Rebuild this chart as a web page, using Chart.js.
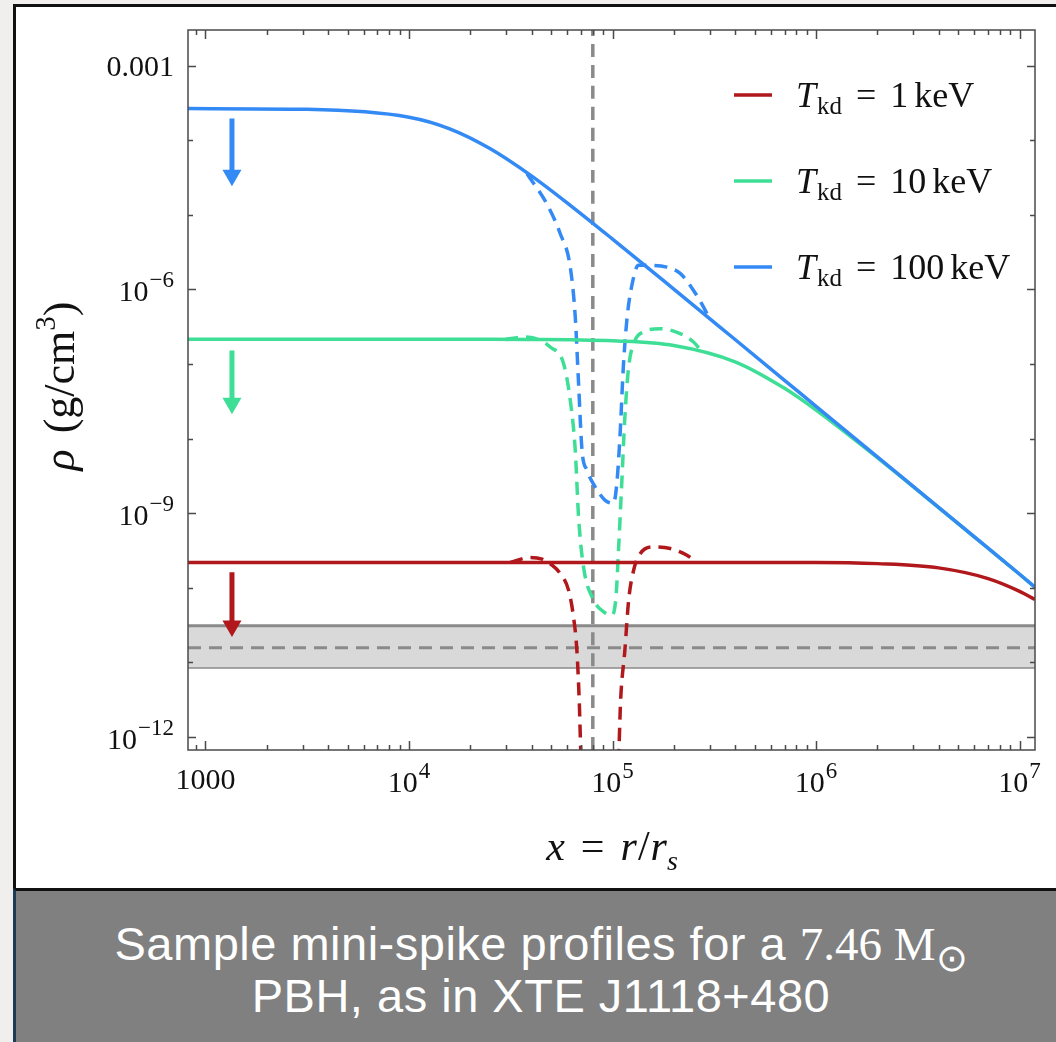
<!DOCTYPE html>
<html>
<head>
<meta charset="utf-8">
<script src="https://cdn.jsdelivr.net/npm/chart.js@4.4.1/dist/chart.umd.min.js"></script>
<style>
  html, body { margin: 0; padding: 0; background: #f0efed; overflow: hidden; width: 1056px; height: 1042px; }
  #frame { position: absolute; left: 13px; top: 4px; width: 1100px; height: 1100px;
           border-left: 3px solid #111; border-top: 3px solid #111; background: #fff; }
  #caption { position: absolute; left: 13px; top: 888px; width: 1100px; height: 160px;
             background: #808080; border-top: 3px solid #111; border-left: 3px solid #1d3b55; color: #fff;
             font-family: 'Liberation Sans', Arial, sans-serif; font-size: 47px; line-height: 52px;
             letter-spacing: 0.5px; }
  #caption .inner { width: 1050px; text-align: center; padding-top: 27px; white-space: nowrap; }
  .sun { font-family: 'Liberation Serif', serif; letter-spacing: 0; }
  .sun sub { font-size: 0.8em; vertical-align: -0.3em; line-height: 0; }
  canvas { position: absolute; left: 0; top: 0; }
</style>
</head>
<body>
<div id="frame"></div>
<div id="caption"><div class="inner">Sample mini-spike profiles for a <span class="sun">7.46 M<sub>⊙</sub></span><br>PBH, as in XTE J1118+480</div></div>
<canvas id="chart" width="1056" height="888"></canvas>
<script>
// axis ranges and ticks
const xMin = 821, xMax = 1.19e7;
const yMin = 6.7e-13, yMax = 3.0e-3;
const xTicks = [1e3, 1e4, 1e5, 1e6, 1e7];
const xTickLabels = ['1000', '10^4', '10^5', '10^6', '10^7'];
const yTicks = [1e-3, 1e-6, 1e-9, 1e-12];
const yTickLabels = ['0.001', '10^\u22126', '10^\u22129', '10^\u221212'];

// solid profiles (shared x grid)
const solidX = [821, 3162, 1e4, 1.585e4, 2.51e4, 3.98e4, 6.31e4, 1e5, 2e5, 4e5, 7e5, 1e6, 2e6, 4e6, 7e6, 1e7, 1.19e7];
const blueSolid = [2.65e-4, 2.59e-4, 2.03e-4, 1.42e-4, 7.67e-5, 3.35e-5, 1.29e-5, 4.73e-6, 1.01e-6, 2.13e-7, 6.05e-8, 2.71e-8, 5.70e-9, 1.20e-9, 3.40e-10, 1.52e-10, 1.02e-10];
const greenSolid = [2.14e-7, 2.14e-7, 2.14e-7, 2.14e-7, 2.14e-7, 2.13e-7, 2.11e-7, 2.05e-7, 1.77e-7, 1.07e-7, 4.72e-8, 2.41e-8, 5.56e-9, 1.19e-9, 3.39e-10, 1.52e-10, 1.02e-10];
const redSolid = [2.19e-10, 2.19e-10, 2.19e-10, 2.19e-10, 2.19e-10, 2.19e-10, 2.19e-10, 2.19e-10, 2.19e-10, 2.19e-10, 2.19e-10, 2.19e-10, 2.11e-10, 1.85e-10, 1.33e-10, 8.97e-11, 6.97e-11];

// dashed profiles
const blueDashX = [3.8e4, 4.75e4, 5.53e4, 6.2e4, 6.56e4, 6.81e4, 7.08e4, 7.49e4, 8.22e4, 9.2e4, 1.01e5, 1.05e5, 1.09e5, 1.13e5, 1.18e5, 1.25e5, 1.34e5, 1.48e5, 1.85e5, 2.15e5, 2.5e5, 2.8e5, 3.0e5];
const blueDashY = [3.55e-5, 1.41e-5, 5.62e-6, 1.99e-6, 4.26e-7, 5.51e-8, 6.98e-9, 3.77e-9, 2.25e-9, 1.49e-9, 1.36e-9, 2.52e-9, 1.18e-8, 9.12e-8, 4.26e-7, 1.2e-6, 2.1e-6, 2.1e-6, 1.99e-6, 1.64e-6, 9.7e-7, 5.8e-7, 4.0e-7];
const greenDashX = [2.97e4, 3.65e4, 4.17e4, 4.94e4, 5.75e4, 6.2e4, 6.56e4, 6.81e4, 7.2e4, 8.07e4, 9.04e4, 9.94e4, 1.04e5, 1.07e5, 1.11e5, 1.15e5, 1.2e5, 1.29e5, 1.42e5, 1.72e5, 2.15e5, 2.5e5, 2.7e5];
const greenDashY = [2.13e-7, 2.3e-7, 2.21e-7, 1.69e-7, 1.01e-7, 3.26e-8, 6.98e-9, 8.93e-10, 1.91e-10, 6.84e-11, 4.77e-11, 4.3e-11, 7.57e-11, 3.2e-10, 2.52e-9, 1.95e-8, 9.12e-8, 2.07e-7, 2.68e-7, 2.98e-7, 2.55e-7, 1.97e-7, 1.55e-7];
const redDashX = [3.14e4, 3.94e4, 4.51e4, 5.04e4, 5.53e4, 6.08e4, 6.43e4, 6.68e4, 6.86e4, 7.01e4, 8.8e4, 1.07e5, 1.096e5, 1.15e5, 1.2e5, 1.27e5, 1.37e5, 1.59e5, 1.92e5, 2.32e5, 2.6e5];
const redDashY = [2.19e-10, 2.55e-10, 2.42e-10, 2.01e-10, 1.56e-10, 9.31e-11, 4.09e-11, 1.46e-11, 3.13e-12, 4.9e-13, 1e-14, 4.9e-13, 3.13e-12, 1.46e-11, 6.84e-11, 1.73e-10, 2.89e-10, 3.54e-10, 3.37e-10, 2.74e-10, 2.19e-10];

// grey band, vertical marker, arrows
const bandX = [xMin, xMax];
const bandTop = [3.1e-11, 3.1e-11];
const bandMid = [1.57e-11, 1.57e-11];
const bandBottom = [8.6e-12, 8.6e-12];
const markerX = [8e4, 8e4];
const markerY = [yMin, yMax];
const arrowX = [1350, 1350];
const blueArrowY = [1.95e-4, 3.4e-5];
const greenArrowY = [1.52e-7, 2.97e-8];
const redArrowY = [1.62e-10, 3.07e-11];

const legendLabels = ['1', '10', '100'];

const RED = 'rgb(176,24,28)', GREEN = 'rgb(62,222,150)', BLUE = 'rgb(52,138,245)', GREY = '#8a8a8a';
const SERIF = "'Liberation Serif', 'Times New Roman', serif";

const pts = (xs, ys) => xs.map((x, i) => ({ x: x, y: ys[i] }));

function line(data, color, extra) {
  return Object.assign({
    data: data, borderColor: color, borderWidth: 3.5, pointRadius: 0,
    fill: false, cubicInterpolationMode: 'monotone'
  }, extra || {});
}

function arrow(ys, color) {
  return {
    data: pts(arrowX, ys), borderColor: color, backgroundColor: color, borderWidth: 5,
    pointStyle: 'triangle', rotation: 180, pointRadius: [0, 11], pointBorderWidth: 0, order: 0
  };
}

// draw "10^-6" style labels with raised exponent
function drawPow(ctx, label, x, base, align) {
  const parts = label.split('^');
  ctx.font = '30px ' + SERIF;
  const wb = ctx.measureText(parts[0]).width;
  let we = 0;
  if (parts[1]) { ctx.font = '23px ' + SERIF; we = ctx.measureText(parts[1]).width + 1; }
  const left = align === 'center' ? x - (wb + we) / 2 : x - wb - we;
  ctx.textAlign = 'left';
  ctx.font = '30px ' + SERIF;
  ctx.fillText(parts[0], left, base);
  if (parts[1]) {
    ctx.font = '23px ' + SERIF;
    ctx.fillText(parts[1], left + wb + 1, base - 14);
  }
}

// draw a run of [text, font, dy, gapAfter] pieces
function drawRun(ctx, pieces, x, y) {
  let cx = x;
  pieces.forEach(p => {
    ctx.font = p[1];
    ctx.fillText(p[0], cx, y + (p[2] || 0));
    cx += ctx.measureText(p[0]).width + (p[3] || 0);
  });
  return cx;
}
function runWidth(ctx, pieces) {
  return pieces.reduce((w, p) => { ctx.font = p[1]; return w + ctx.measureText(p[0]).width + (p[3] || 0); }, 0);
}

const framePlugin = {
  id: 'framePlugin',
  afterDatasetsDraw(chart) {
    const { ctx, chartArea: a, scales: { x, y } } = chart;
    ctx.save();
    ctx.strokeStyle = '#4a4a4a';
    ctx.lineWidth = 1.5;
    ctx.strokeRect(a.left, a.top, a.right - a.left, a.bottom - a.top);
    ctx.beginPath();
    for (let e = 2; e <= 7; e++) {
      for (let k = 1; k <= 9; k++) {
        const v = k * Math.pow(10, e);
        if (v < xMin || v > xMax) continue;
        const px = Math.round(x.getPixelForValue(v)) + 0.5;
        const len = k === 1 ? 9 : 5;
        ctx.moveTo(px, a.bottom); ctx.lineTo(px, a.bottom - len);
        ctx.moveTo(px, a.top); ctx.lineTo(px, a.top + len);
      }
    }
    for (let e = -12; e <= -3; e++) {
      const py = Math.round(y.getPixelForValue(Math.pow(10, e))) + 0.5;
      const len = e % 3 === 0 ? 8 : 5;
      ctx.moveTo(a.left, py); ctx.lineTo(a.left + len, py);
      ctx.moveTo(a.right, py); ctx.lineTo(a.right - len, py);
    }
    ctx.stroke();

    // tick labels
    ctx.fillStyle = '#111';
    ctx.textBaseline = 'alphabetic';
    xTicks.forEach((v, i) => {
      const px = x.getPixelForValue(v);
      drawPow(ctx, xTickLabels[i], px, xTickLabels[i].includes('^') ? 792 : 789, 'center');
    });
    yTicks.forEach((v, i) => {
      const py = y.getPixelForValue(v);
      drawPow(ctx, yTickLabels[i], a.left - 14, py + (yTickLabels[i].includes('^') ? 12 : 10), 'right');
    });

    // x axis title
    const it = 'italic 42px ' + SERIF, up = '42px ' + SERIF, sub = 'italic 28px ' + SERIF;
    const xt = [['x', it, 0, 16], ['=', up, 0, 16], ['r', it, 0, 1], ['/', up, 0, 1], ['r', it], ['s', sub, 10]];
    drawRun(ctx, xt, 612 - runWidth(ctx, xt) / 2, 860);

    // y axis title (rotated)
    const yt = [['\u03c1', 'italic 44px ' + SERIF, 0, 16], ['(g/cm', '44px ' + SERIF], ['3', '29px ' + SERIF, -19], [')', '44px ' + SERIF]];
    ctx.save();
    ctx.translate(74, 386);
    ctx.rotate(-Math.PI / 2);
    drawRun(ctx, yt, -runWidth(ctx, yt) / 2, 0);
    ctx.restore();

    // legend
    const rows = [95, 181, 267];
    const colors = [RED, GREEN, BLUE];
    rows.forEach((ry, i) => {
      ctx.strokeStyle = colors[i];
      ctx.lineWidth = 3.5;
      ctx.beginPath(); ctx.moveTo(734, ry); ctx.lineTo(772, ry); ctx.stroke();
      ctx.fillStyle = '#111';
      drawRun(ctx, [
        ['T', 'italic 36px ' + SERIF, 12, 1],
        ['kd', '25px ' + SERIF, 19, 14],
        ['=', '36px ' + SERIF, 12, 14],
        [legendLabels[i], '36px ' + SERIF, 12, 6],
        ['keV', '36px ' + SERIF, 12]
      ], 796, ry);
    });
    ctx.restore();
  }
};

new Chart(document.getElementById('chart'), {
  type: 'line',
  data: {
    datasets: [
      arrow(blueArrowY, BLUE),
      arrow(greenArrowY, GREEN),
      arrow(redArrowY, RED),
      line(pts(solidX, blueSolid), BLUE, { order: 1 }),
      line(pts(solidX, greenSolid), GREEN, { order: 2 }),
      line(pts(solidX, redSolid), RED, { order: 3 }),
      line(pts(blueDashX, blueDashY), BLUE, { borderDash: [13, 8], order: 4 }),
      line(pts(greenDashX, greenDashY), GREEN, { borderDash: [13, 8], order: 5 }),
      line(pts(redDashX, redDashY), RED, { borderDash: [13, 8], order: 6 }),
      line(pts(markerX, markerY), GREY, { borderDash: [13, 8], borderWidth: 3.5, order: 7 }),
      line(pts(bandX, bandMid), GREY, { borderDash: [13, 8], borderWidth: 3, order: 8 }),
      line(pts(bandX, bandTop), GREY, { borderWidth: 3, fill: '+1', backgroundColor: '#d9d9d9', order: 9 }),
      line(pts(bandX, bandBottom), GREY, { borderWidth: 3, order: 10 })
    ]
  },
  options: {
    responsive: false,
    animation: false,
    layout: { padding: { left: 188, right: 21, top: 30, bottom: 138 } },
    plugins: { legend: { display: false }, tooltip: { enabled: false } },
    scales: {
      x: { type: 'logarithmic', min: xMin, max: xMax, display: false },
      y: { type: 'logarithmic', min: yMin, max: yMax, display: false }
    }
  },
  plugins: [framePlugin]
});
</script>
</body>
</html>
